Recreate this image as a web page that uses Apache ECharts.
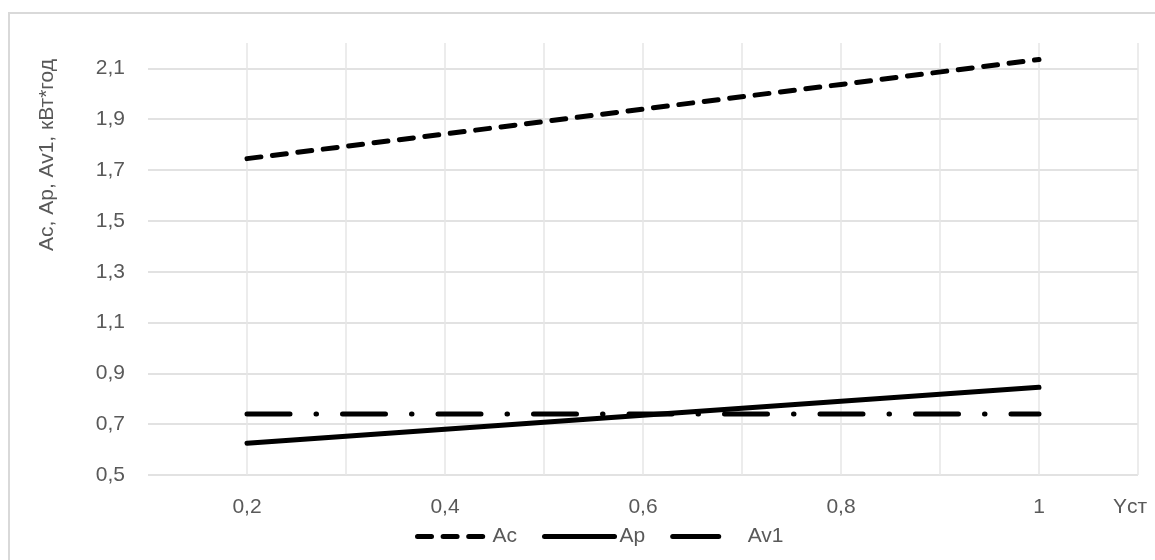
<!DOCTYPE html>
<html>
<head>
<meta charset="utf-8">
<script src="https://cdn.jsdelivr.net/npm/echarts@6/dist/echarts.min.js"></script>
<style>
html,body{margin:0;padding:0;background:#fff;}
#chart{width:1155px;height:560px;}
</style>
</head>
<body>
<div id="chart"></div>
<script>
// ---- data ----
const xValues = [0.2, 0.4, 0.6, 0.8, 1.0];
const acValues = [1.745, 1.842, 1.940, 2.037, 2.135];
const apValues = [0.625, 0.680, 0.735, 0.790, 0.845];
const av1Values = [0.74, 0.74, 0.74, 0.74, 0.74];
const seriesNames = ['Ac', 'Ap', 'Av1'];
const xTickValues = [0.2, 0.4, 0.6, 0.8, 1.0];
const xTickLabels = ['0,2', '0,4', '0,6', '0,8', '1'];
const yTickValues = [0.5, 0.7, 0.9, 1.1, 1.3, 1.5, 1.7, 1.9, 2.1];
const yTickLabels = ['0,5', '0,7', '0,9', '1,1', '1,3', '1,5', '1,7', '1,9', '2,1'];
const yAxisTitle = 'Ac, Ap, Av1, кВт*год';
const xAxisTitle = 'Yст';

function pairs(ys) { return xValues.map((x, i) => [x, ys[i]]); }
function lookup(vals, labels, v) {
  for (let i = 0; i < vals.length; i++) if (Math.abs(vals[i] - v) < 1e-6) return labels[i];
  return '';
}

const FONT = '"Liberation Sans", Arial, sans-serif';
const GRAY = '#595959';
const LW = 5;

const chart = echarts.init(document.getElementById('chart'), null, {renderer: 'canvas'});
chart.setOption({
  animation: false,
  backgroundColor: '#ffffff',
  graphic: [{
    type: 'rect',
    shape: {x: 9, y: 13, width: 1300, height: 700},
    style: {fill: 'none', stroke: '#d9d9d9', lineWidth: 2},
    silent: true, z: -10
  }],
  grid: {left: 148, right: 17, top: 43, bottom: 85, containLabel: false},
  legend: {
    left: 410, top: 521,
    itemWidth: 70, itemHeight: 14, itemGap: 25,
    itemStyle: {opacity: 0},
    lineStyle: {width: LW, cap: 'round'},
    textStyle: {color: GRAY, fontSize: 21, fontFamily: FONT},
    data: [
      {name: seriesNames[0]},
      {name: seriesNames[1]},
      {name: seriesNames[2], lineStyle: {type: [46, 200], width: LW, cap: 'round'}}
    ]
  },
  xAxis: {
    type: 'value', min: 0.1, max: 1.1, interval: 0.1,
    name: xAxisTitle, nameLocation: 'end', nameGap: -8,
    nameTextStyle: {color: GRAY, fontSize: 21, fontFamily: FONT, align: 'center', verticalAlign: 'top', padding: [22, 0, 0, 0]},
    axisLine: {show: false}, axisTick: {show: false},
    axisLabel: {
      color: GRAY, fontSize: 21, fontFamily: FONT, margin: 22,
      showMinLabel: true, showMaxLabel: true,
      formatter: v => lookup(xTickValues, xTickLabels, v)
    },
    splitLine: {show: true, showMinLine: false, showMaxLine: true, lineStyle: {color: '#e6e6e6', width: 1.5}}
  },
  yAxis: {
    type: 'value', min: 0.5, max: 2.2, interval: 0.1,
    name: yAxisTitle, nameLocation: 'middle', nameGap: 90, nameRotate: 90,
    nameTextStyle: {color: GRAY, fontSize: 21, fontFamily: FONT, padding: [0, 0, 0, 208]},
    axisLine: {show: false}, axisTick: {show: false},
    axisLabel: {
      color: GRAY, fontSize: 21, fontFamily: FONT, margin: 23,
      formatter: v => lookup(yTickValues, yTickLabels, v)
    },
    splitLine: {show: true, showMinLine: true, showMaxLine: false,
      lineStyle: {color: ['#d9d9d9', 'rgba(0,0,0,0)'], width: 1.5}}
  },
  series: [
    {
      name: seriesNames[0], type: 'line', data: pairs(acValues), symbol: 'none',
      color: '#000', itemStyle: {color: '#000'},
      lineStyle: {color: '#000', width: LW, type: [14, 11.6], cap: 'round'}
    },
    {
      name: seriesNames[1], type: 'line', data: pairs(apValues), symbol: 'none',
      color: '#000', itemStyle: {color: '#000'},
      lineStyle: {color: '#000', width: LW, type: 'solid', cap: 'round'}
    },
    {
      name: seriesNames[2], type: 'line', data: pairs(av1Values), symbol: 'none',
      color: '#000', itemStyle: {color: '#000'},
      lineStyle: {color: '#000', width: LW, type: [43, 26, 0.5, 26], cap: 'round'}
    }
  ]
});
</script>
</body>
</html>
